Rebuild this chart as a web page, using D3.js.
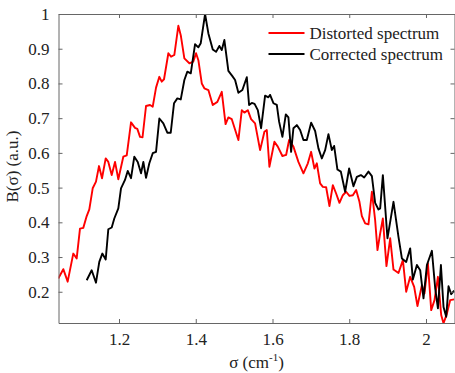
<!DOCTYPE html>
<html>
<head>
<meta charset="utf-8">
<script src="https://cdn.jsdelivr.net/npm/d3@7"></script>
<style>
  body { margin: 0; background: #fff; }
  svg text { font-family: "Liberation Serif", "Times New Roman", serif; fill: #222; }
</style>
</head>
<body>
<div id="chart"></div>
<script>
// Distorted spectrum (red)
const distortedSigma = [1.0417,1.0548,1.0662,1.0808,1.0897,1.0983,1.1069,1.1158,1.1226,1.1314,1.14,1.1478,1.1557,1.1653,1.1721,1.181,1.1896,1.1982,1.2112,1.2201,1.2313,1.2417,1.2477,1.2548,1.2613,1.2704,1.2808,1.2879,1.2965,1.3051,1.3113,1.3173,1.3286,1.3356,1.3442,1.3546,1.3609,1.3703,1.3833,1.3937,1.4008,1.4068,1.4157,1.4224,1.4329,1.4443,1.4563,1.4678,1.4777,1.485,1.4939,1.5111,1.52,1.5267,1.5356,1.5442,1.5546,1.5677,1.5789,1.5851,1.5919,1.605,1.6138,1.6258,1.6355,1.6433,1.6545,1.6675,1.6806,1.6921,1.7007,1.7093,1.7155,1.7241,1.7312,1.7398,1.7484,1.7572,1.7658,1.7745,1.7833,1.7919,1.8005,1.8094,1.818,1.8266,1.8329,1.8415,1.8501,1.859,1.8675,1.8736,1.8806,1.8876,1.897,1.9067,1.9153,1.9283,1.9398,1.9484,1.9588,1.9692,1.9778,1.9893,1.9961,2.005,2.0136,2.0222,2.0311,2.0396,2.0457,2.0545,2.0631,2.0735];
const distortedB = [0.238,0.265,0.229,0.310,0.296,0.382,0.384,0.418,0.437,0.498,0.517,0.562,0.527,0.584,0.574,0.536,0.574,0.524,0.589,0.593,0.688,0.672,0.669,0.646,0.645,0.735,0.738,0.733,0.788,0.819,0.805,0.812,0.887,0.877,0.882,0.966,0.939,0.872,0.858,0.863,0.887,0.867,0.800,0.786,0.781,0.738,0.747,0.776,0.683,0.702,0.697,0.637,0.723,0.716,0.723,0.697,0.685,0.608,0.661,0.666,0.560,0.632,0.618,0.591,0.594,0.637,0.618,0.574,0.541,0.570,0.603,0.555,0.570,0.512,0.502,0.501,0.447,0.507,0.483,0.456,0.478,0.488,0.476,0.478,0.493,0.459,0.418,0.397,0.394,0.488,0.406,0.320,0.368,0.411,0.274,0.354,0.264,0.254,0.291,0.200,0.243,0.214,0.159,0.219,0.195,0.282,0.147,0.176,0.243,0.133,0.109,0.137,0.176,0.178];

// Corrected spectrum (black)
const correctedSigma = [1.1158,1.1288,1.14,1.1486,1.1565,1.1653,1.1721,1.181,1.1877,1.1982,1.2052,1.2156,1.2227,1.2313,1.2399,1.2488,1.2574,1.2634,1.2704,1.279,1.2879,1.2965,1.3051,1.3155,1.3259,1.3348,1.3434,1.352,1.3609,1.3703,1.3781,1.387,1.3982,1.4068,1.413,1.4243,1.4329,1.4443,1.4529,1.4615,1.4678,1.4746,1.485,1.4954,1.5025,1.5111,1.5215,1.533,1.539,1.546,1.5533,1.5617,1.5703,1.5807,1.5893,1.5937,1.6024,1.6112,1.6172,1.6258,1.6347,1.6415,1.6485,1.6545,1.6634,1.672,1.6806,1.6894,1.7007,1.7111,1.7197,1.7286,1.7372,1.7458,1.7546,1.7606,1.7692,1.7781,1.7893,1.7997,1.811,1.8198,1.8303,1.8389,1.8501,1.859,1.8675,1.8762,1.8806,1.8876,1.8996,1.9153,1.9283,1.9372,1.9484,1.9588,1.9658,1.9763,1.9849,1.9935,2.0024,2.0154,2.024,2.0311,2.0389,2.0457,2.0527,2.0587,2.0657,2.0735];
const correctedB = [0.233,0.262,0.226,0.286,0.310,0.293,0.380,0.385,0.411,0.440,0.498,0.522,0.548,0.527,0.589,0.574,0.541,0.574,0.528,0.570,0.599,0.603,0.699,0.685,0.658,0.658,0.743,0.757,0.754,0.810,0.834,0.829,0.913,0.904,0.916,1.0,0.944,0.898,0.891,0.908,0.896,0.925,0.836,0.821,0.810,0.773,0.781,0.818,0.738,0.744,0.741,0.723,0.671,0.765,0.760,0.767,0.743,0.738,0.690,0.646,0.711,0.702,0.603,0.671,0.680,0.666,0.637,0.637,0.687,0.663,0.613,0.584,0.608,0.654,0.608,0.620,0.552,0.546,0.488,0.555,0.504,0.531,0.536,0.529,0.546,0.533,0.456,0.437,0.440,0.536,0.354,0.459,0.358,0.296,0.286,0.325,0.235,0.277,0.262,0.181,0.277,0.318,0.210,0.152,0.277,0.156,0.128,0.216,0.193,0.203];

const xTicks = [1.2, 1.4, 1.6, 1.8, 2];
const yTicks = [0.2, 0.3, 0.4, 0.5, 0.6, 0.7, 0.8, 0.9, 1];
const legendLabels = ["Distorted spectrum", "Corrected spectrum"];
const seriesColors = ["#ff0000", "#000000"];

const width = 455, height = 373;
const margin = { top: 14, right: 0.5, bottom: 50, left: 58.5 };
const plotW = width - margin.left - margin.right;
const plotH = height - margin.top - margin.bottom;
const fontSize = "17px";

const svg = d3.select("#chart").append("svg")
    .attr("width", width)
    .attr("height", height);

const g = svg.append("g")
    .attr("transform", `translate(${margin.left},${margin.top})`);

const x = d3.scaleLinear().domain([1.0423, 2.0743]).range([0, plotW]);
const y = d3.scaleLinear().domain([0.11, 1]).range([plotH, 0]);

svg.append("defs").append("clipPath").attr("id", "clip")
    .append("rect").attr("width", plotW).attr("height", plotH);

// Lines
const line = d3.line().x(d => x(d[0])).y(d => y(d[1]));
const series = [
    d3.zip(distortedSigma, distortedB),
    d3.zip(correctedSigma, correctedB)
];
series.forEach((s, i) => {
    g.append("path")
        .datum(s)
        .attr("clip-path", "url(#clip)")
        .attr("fill", "none")
        .attr("stroke", seriesColors[i])
        .attr("stroke-width", 1.9)
        .attr("stroke-linejoin", "round")
        .attr("d", line);
});

// Axes (MATLAB style: box with inward ticks)
const axisColor = "#666";
const tickLen = 4;
const axBottom = g.append("g").attr("transform", `translate(0,${plotH})`)
    .call(d3.axisBottom(x).tickValues(xTicks).tickSizeInner(-tickLen).tickSizeOuter(0).tickPadding(10).tickFormat(d3.format("")));
const axLeft = g.append("g")
    .call(d3.axisLeft(y).tickValues(yTicks).tickSizeInner(-tickLen).tickSizeOuter(0).tickPadding(9).tickFormat(d => d === 1 ? "1" : d3.format(".1f")(d)));
const axTop = g.append("g")
    .call(d3.axisTop(x).tickValues(xTicks).tickSizeInner(-tickLen).tickSizeOuter(0).tickFormat(""));
const axRight = g.append("g").attr("transform", `translate(${plotW},0)`)
    .call(d3.axisRight(y).tickValues(yTicks).tickSizeInner(-tickLen).tickSizeOuter(0).tickFormat(""));

[axBottom, axLeft, axTop, axRight].forEach(a => {
    a.select(".domain").attr("stroke", axisColor);
    a.selectAll("line").attr("stroke", axisColor);
    a.selectAll("text")
        .style("font-family", '"Liberation Serif", "Times New Roman", serif')
        .style("font-size", fontSize)
        .attr("fill", "#222");
});

// Axis labels
svg.append("text")
    .attr("x", margin.left + x(1.6) - 16)
    .attr("y", 368)
    .attr("text-anchor", "middle")
    .style("font-size", fontSize)
    .html('σ (cm<tspan dy="-7" font-size="11px">-1</tspan><tspan dy="7">)</tspan>');

svg.append("text")
    .attr("transform", `translate(18,${margin.top + plotH / 2 - 2}) rotate(-90)`)
    .attr("text-anchor", "middle")
    .style("font-size", fontSize)
    .text("B(σ) (a.u.)");

// Legend
const legend = g.append("g").attr("transform", "translate(210,19)");
legendLabels.forEach((lab, i) => {
    const row = legend.append("g").attr("transform", `translate(0,${i * 21})`);
    row.append("line")
        .attr("x1", 0).attr("x2", 36)
        .attr("stroke", seriesColors[i])
        .attr("stroke-width", 1.9);
    row.append("text")
        .attr("x", 41)
        .attr("y", 5.5)
        .style("font-size", fontSize)
        .text(lab);
});
</script>
</body>
</html>
